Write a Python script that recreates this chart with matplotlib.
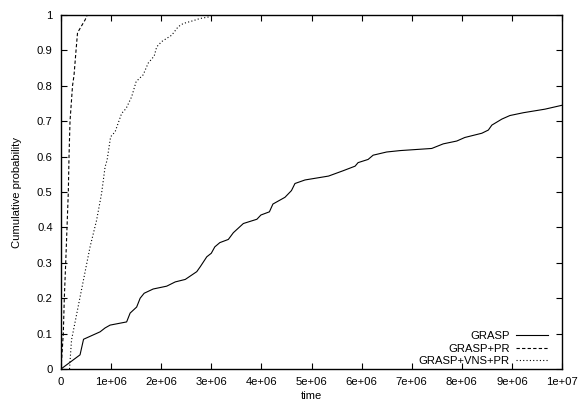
import matplotlib
matplotlib.use("Agg")
import matplotlib.pyplot as plt

plt.rcParams['font.family'] = ['Liberation Sans', 'DejaVu Sans']

# GRASP (solid)
grasp_t = [0, 0.38e6, 0.45e6, 0.78e6, 0.88e6, 0.98e6, 1.31e6, 1.38e6, 1.51e6, 1.58e6,
           1.66e6, 1.84e6, 2.11e6, 2.28e6, 2.48e6, 2.71e6, 2.78e6, 2.91e6, 3.0e6, 3.07e6,
           3.17e6, 3.34e6, 3.44e6, 3.64e6, 3.91e6, 3.99e6, 4.16e6, 4.23e6, 4.47e6, 4.60e6,
           4.67e6, 4.87e6, 5.34e6, 5.63e6, 5.87e6, 5.93e6, 6.13e6, 6.23e6, 6.50e6, 6.77e6,
           7.40e6, 7.63e6, 7.90e6, 8.06e6, 8.40e6, 8.53e6, 8.60e6, 8.80e6, 8.96e6, 9.23e6,
           9.66e6, 1.0e7]
grasp_p = [0, 0.04, 0.084, 0.105, 0.116, 0.124, 0.133, 0.158, 0.175, 0.20,
           0.214, 0.226, 0.234, 0.246, 0.253, 0.275, 0.289, 0.317, 0.327, 0.345,
           0.357, 0.366, 0.385, 0.411, 0.423, 0.435, 0.444, 0.466, 0.485, 0.504,
           0.524, 0.534, 0.545, 0.560, 0.573, 0.583, 0.592, 0.604, 0.613, 0.617,
           0.623, 0.636, 0.644, 0.654, 0.666, 0.675, 0.689, 0.706, 0.716, 0.724,
           0.734, 0.745]

# GRASP+PR (dashed)
pr_t = [0, 0.046e6, 0.066e6, 0.094e6, 0.146e6, 0.16e6, 0.18e6, 0.23e6, 0.26e6,
        0.30e6, 0.33e6, 0.38e6, 0.48e6, 0.51e6, 0.52e6]
pr_p = [0, 0.1, 0.2, 0.3, 0.5, 0.6, 0.7, 0.8, 0.83,
        0.9, 0.95, 0.962, 0.986, 0.995, 1.0]

# GRASP+VNS+PR (dotted)
vns_t = [0.17e6, 0.21e6, 0.58e6, 0.71e6, 0.81e6, 0.88e6, 0.92e6, 0.99e6, 1.08e6,
         1.21e6, 1.30e6, 1.41e6, 1.50e6, 1.64e6, 1.74e6, 1.86e6, 1.91e6, 2.01e6,
         2.21e6, 2.34e6, 2.44e6, 2.64e6, 2.77e6, 2.97e6, 2.99e6]
vns_p = [0.0, 0.082, 0.345, 0.42, 0.496, 0.571, 0.59, 0.656, 0.67,
         0.722, 0.736, 0.769, 0.812, 0.831, 0.864, 0.884, 0.91, 0.925,
         0.943, 0.967, 0.976, 0.984, 0.99, 0.995, 1.0]

xticks = [0, 1e6, 2e6, 3e6, 4e6, 5e6, 6e6, 7e6, 8e6, 9e6, 1e7]
xlabels = ["0", "1e+06", "2e+06", "3e+06", "4e+06", "5e+06", "6e+06", "7e+06", "8e+06", "9e+06", "1e+07"]
yticks = [0, 0.1, 0.2, 0.3, 0.4, 0.5, 0.6, 0.7, 0.8, 0.9, 1]
ylabels = ["0", "0.1", "0.2", "0.3", "0.4", "0.5", "0.6", "0.7", "0.8", "0.9", "1"]

fs = 8.1

fig = plt.figure(figsize=(5.79, 4.01), dpi=100)
ax = fig.add_axes([61 / 579, 1 - 369 / 401, 501 / 579, 354 / 401])

ax.plot(grasp_t, grasp_p, color="black", lw=0.8, label="GRASP")
ax.plot(pr_t, pr_p, color="black", lw=0.8, dashes=(3, 2), label="GRASP+PR")
ax.plot(vns_t, vns_p, color="black", lw=0.8, dashes=(1, 2), label="GRASP+VNS+PR")

ax.set_xlim(0, 1e7)
ax.set_ylim(0, 1)
ax.set_xticks(xticks)
ax.set_xticklabels(xlabels)
ax.set_yticks(yticks)
ax.set_yticklabels(ylabels)
ax.tick_params(direction="in", length=4, width=0.8, labelsize=fs, top=True, right=True, pad=6)
for s in ax.spines.values():
    s.set_linewidth(1.0)

ax.set_xlabel("time", fontsize=fs, labelpad=2.5)
ax.set_ylabel("Cumulative probability", fontsize=fs, labelpad=11)

leg = ax.legend(loc="lower right", fontsize=fs, frameon=False, markerfirst=False,
                handlelength=2.8, handletextpad=0.6, labelspacing=0.2,
                borderaxespad=0.0, bbox_to_anchor=(0.981, -0.004))
for t in leg.get_texts():
    t.set_ha("right")

fig.savefig("out.png", dpi=100)
